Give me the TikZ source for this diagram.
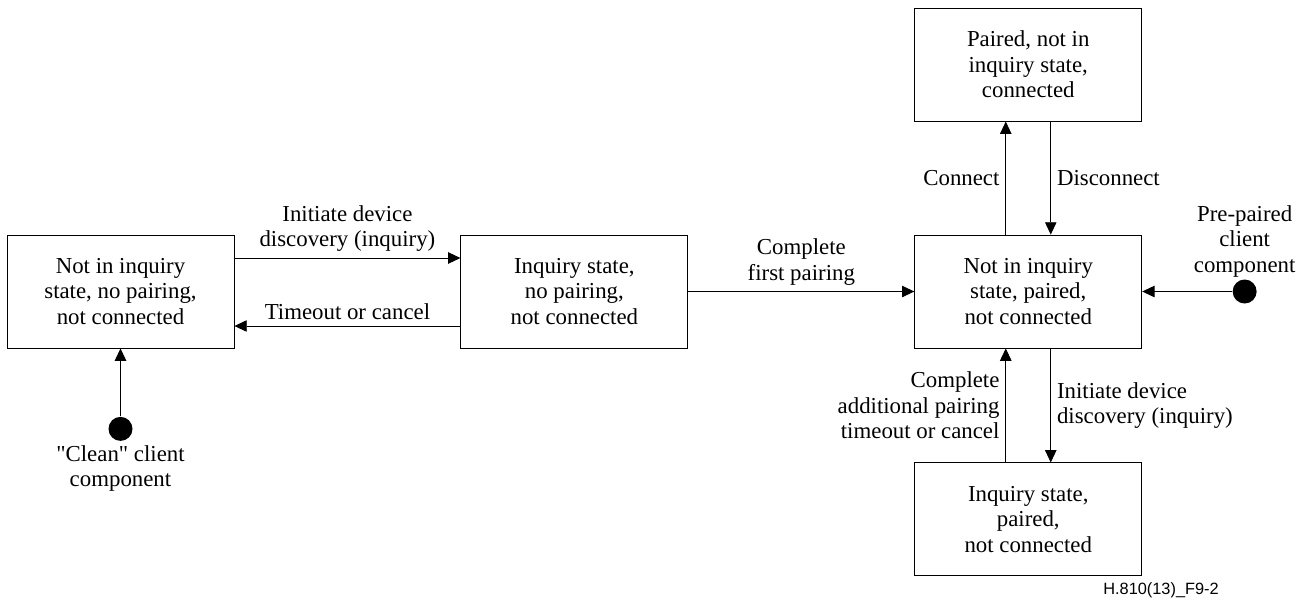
\documentclass[tikz,border=0pt]{standalone}
\usepackage{fontspec}
\setmainfont{Liberation Serif}
\newfontfamily\figsans{Liberation Sans}
\usepackage{tikz}
\usetikzlibrary{arrows.meta,positioning}

\begin{document}
\begin{tikzpicture}[->,>={Triangle[length=7pt,width=6.5pt]},line width=0.5pt,
                    node distance=4.52cm,
                    font=\fontsize{13}{14.5}\selectfont,
                    stbox/.style={draw,rectangle,->,minimum width=4.54cm,
                                  minimum height=2.26cm,inner sep=0pt,align=center},
                    startdot/.style={circle,fill,inner sep=0pt,minimum size=0.48cm}]
  \useasboundingbox (0,0) rectangle (26.18,-12);

  \node[stbox] at (2.41,-5.83)        (A) {Not in inquiry\\state, no pairing,\\not connected};
  \node[stbox] [right=of A]           (B) {Inquiry state,\\no pairing,\\not connected};
  \node[stbox] [right=of B]           (C) {Not in inquiry\\state, paired,\\not connected};
  \node[stbox] [above=2.26cm of C]    (D) {Paired, not in\\inquiry state,\\connected};
  \node[stbox] [below=2.28cm of C]    (E) {Inquiry state,\\paired,\\not connected};

  \node[startdot] [below=1.36cm of A] (clean) {};
  \node[below=0cm of clean, inner sep=2pt, align=center] (cleantxt) {\textquotedbl Clean\textquotedbl{} client\\component};
  \node[startdot] [right=1.8cm of C]  (pre) {};
  \node[above=0cm of pre, inner sep=1pt, align=center]   (pretxt) {Pre-paired\\client\\component};

  \path (clean) edge (A)
        (pre)   edge (C)
        ([yshift=0.67cm]A.east)  edge node[above,align=center] {Initiate device\\discovery (inquiry)} ([yshift=0.67cm]B.west)
        ([yshift=-0.69cm]B.west) edge node[above] {Timeout or cancel} ([yshift=-0.69cm]A.east)
        (B) edge node[above,align=center] {Complete\\first pairing} (C)
        ([xshift=-0.45cm]C.north) edge node[left]  {Connect}    ([xshift=-0.45cm]D.south)
        ([xshift=0.45cm]D.south)  edge node[right] {Disconnect} ([xshift=0.45cm]C.north)
        ([xshift=-0.45cm]E.north) edge node[left,align=right] {Complete\\additional pairing\\timeout or cancel} ([xshift=-0.45cm]C.south)
        ([xshift=0.45cm]C.south)  edge node[right,align=left] {Initiate device\\discovery (inquiry)} ([xshift=0.45cm]E.north);

  \node[font=\figsans\fontsize{9.3}{10}\selectfont, anchor=east] (figid) at (24.5,-11.8) {H.810(13)\_F9-2};
\end{tikzpicture}
\end{document}
